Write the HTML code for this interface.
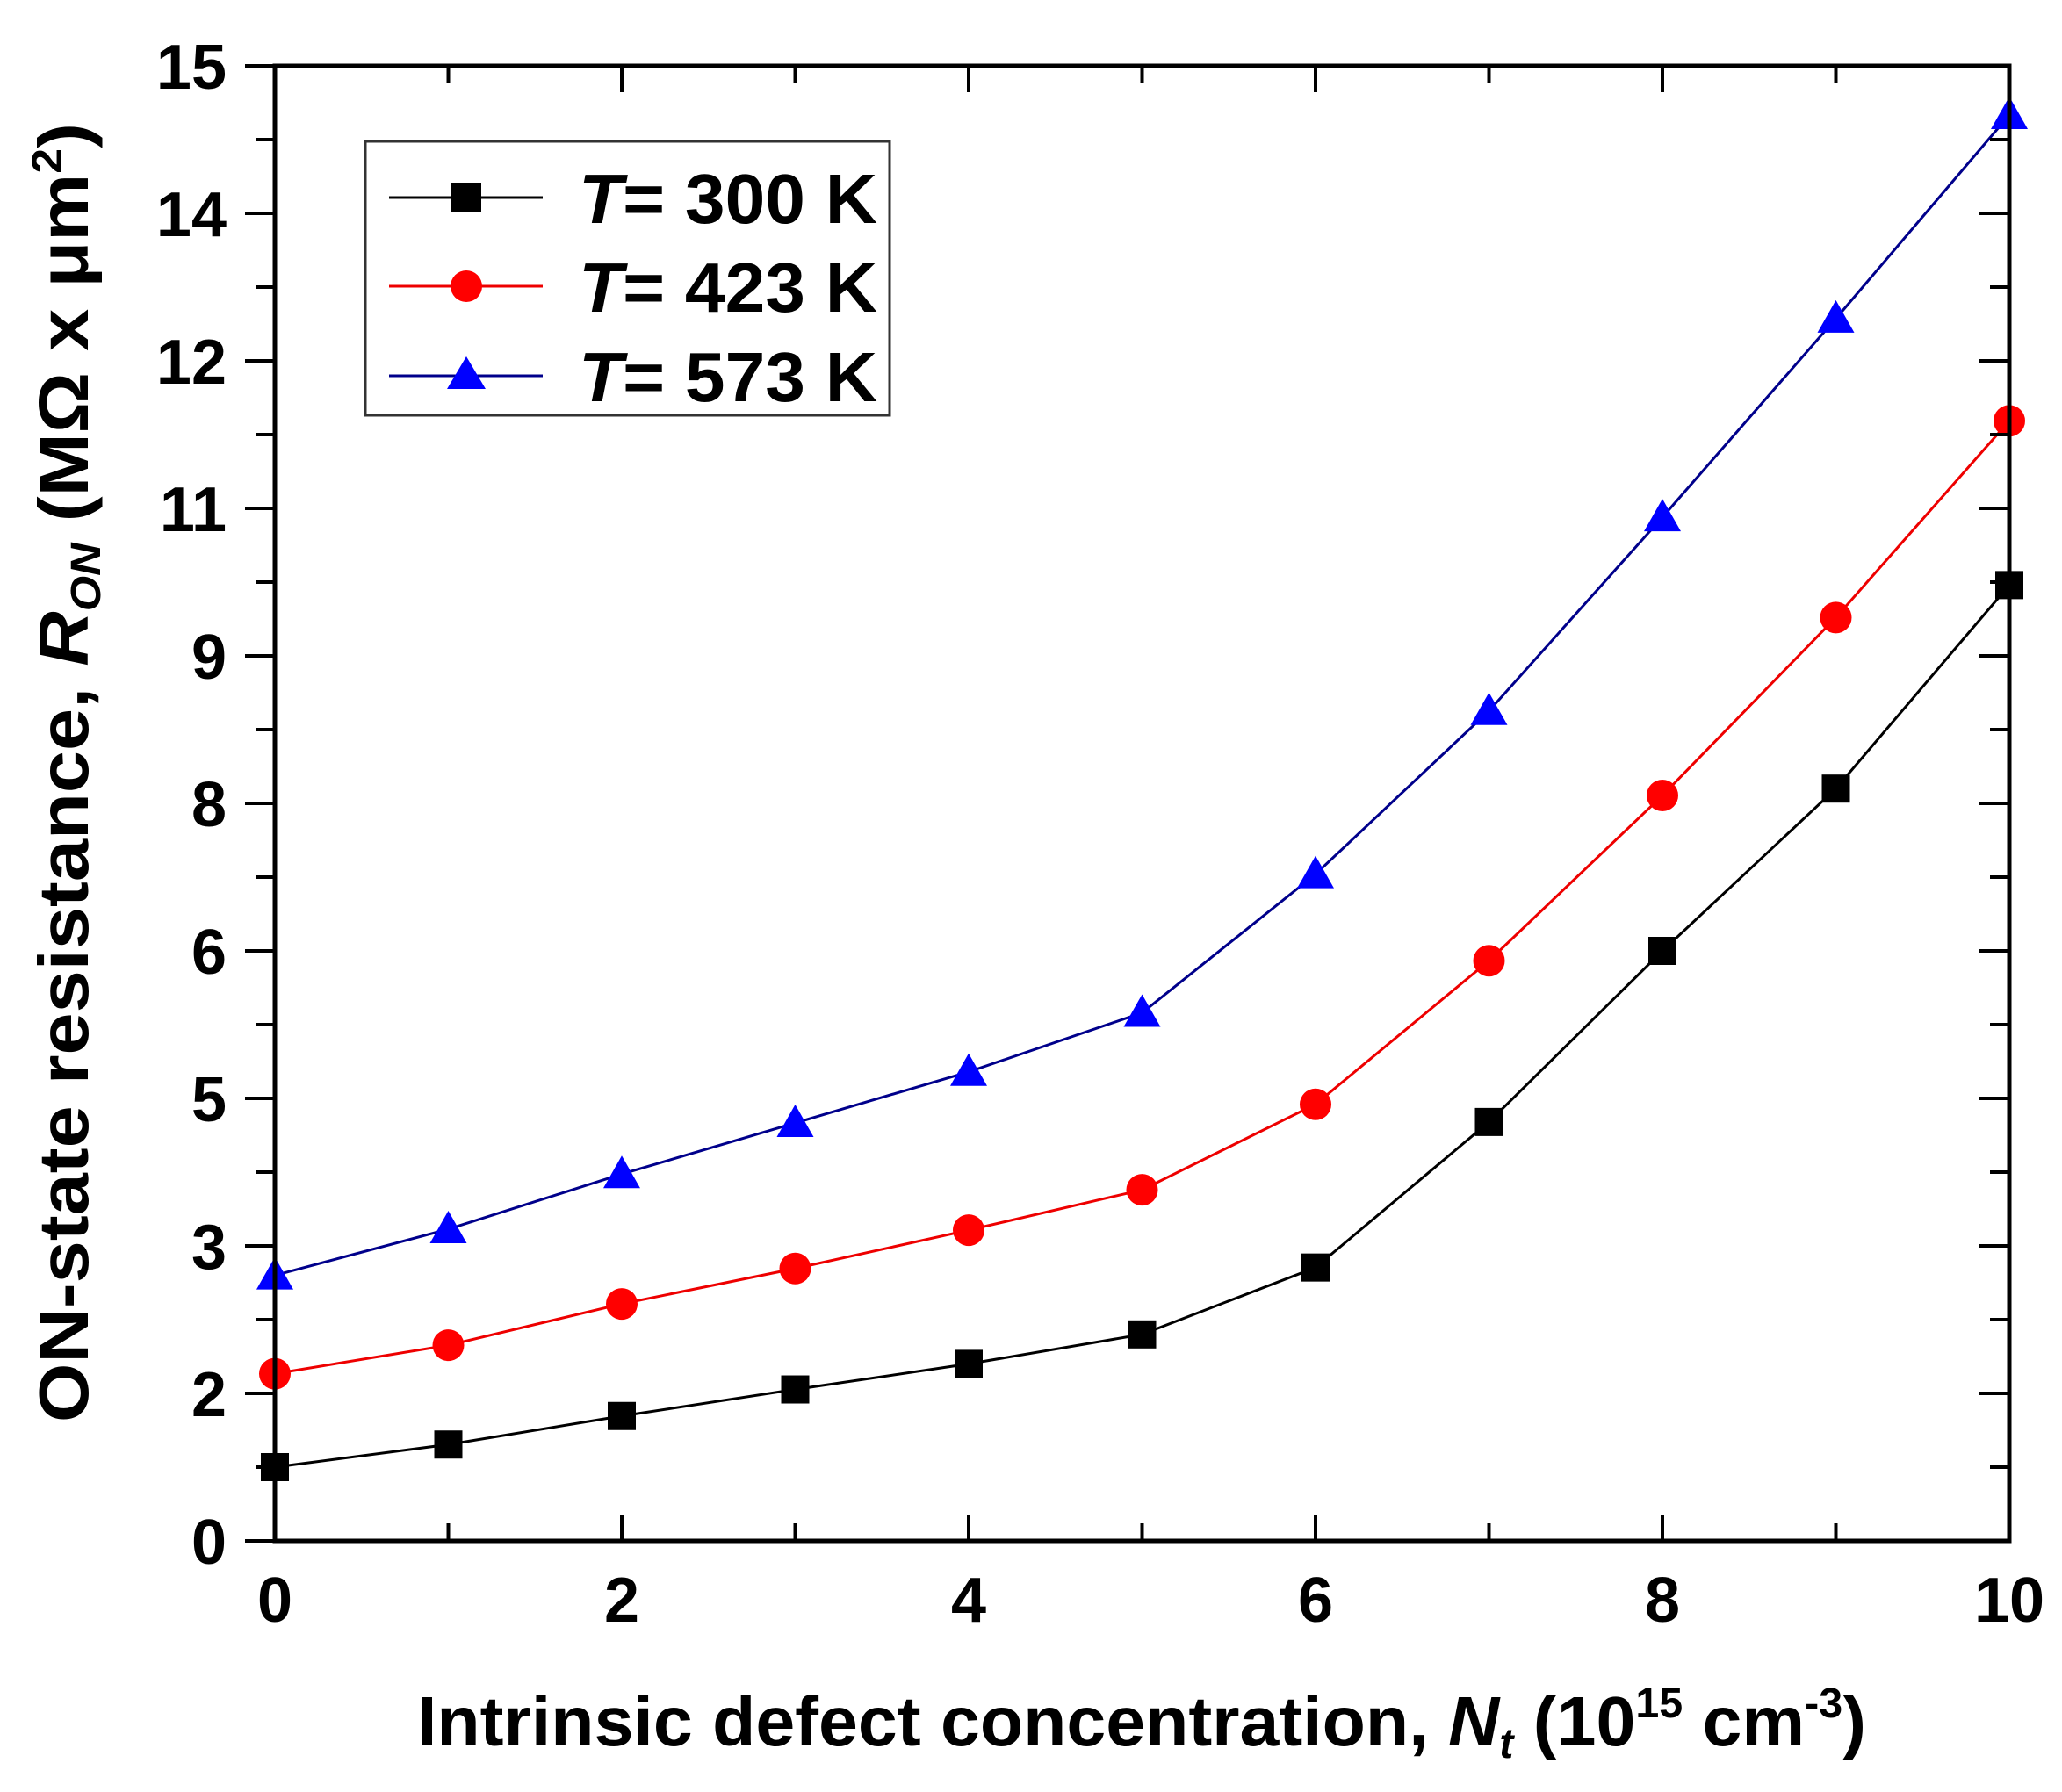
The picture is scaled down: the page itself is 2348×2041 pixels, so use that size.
<!DOCTYPE html>
<html><head><meta charset="utf-8"><style>
html,body{margin:0;padding:0;background:#fff;}
svg{display:block;font-family:"Liberation Sans",Arial,sans-serif;}
</style></head><body>
<svg id="chart" width="2348" height="2041" viewBox="0 0 2348 2041" xmlns="http://www.w3.org/2000/svg">
<rect width="2348" height="2041" fill="#fff"/>
<g id="marks"></g>
<g id="axes"></g>
<text transform="translate(100,880) rotate(-90)" text-anchor="middle" font-size="80" font-weight="bold" textLength="1480" lengthAdjust="spacingAndGlyphs">ON-state resistance, <tspan font-style="italic">R</tspan><tspan font-style="italic" font-size="48" dy="14">ON</tspan><tspan dy="-14"> (MΩ x μm</tspan><tspan font-size="48" dy="-30">2</tspan><tspan dy="30">)</tspan></text>
<text x="1300" y="1988" text-anchor="middle" font-size="80" font-weight="bold" textLength="1650" lengthAdjust="spacingAndGlyphs">Intrinsic defect concentration, <tspan font-style="italic">N</tspan><tspan font-style="italic" font-size="48" dy="14">t</tspan><tspan dy="-14"> (10</tspan><tspan font-size="48" dy="-32">15</tspan><tspan dy="32"> cm</tspan><tspan font-size="48" dy="-32">-3</tspan><tspan dy="32">)</tspan></text>
<g>
<rect x="416" y="161" width="597" height="312" fill="#fff" stroke="#333" stroke-width="3"/>
<g>
<line x1="443" y1="225" x2="618" y2="225" stroke="#000" stroke-width="3"/>
<rect x="514" y="208" width="34" height="34" fill="#000"/>
<text x="659" y="254" font-size="80" font-weight="bold" textLength="340" lengthAdjust="spacingAndGlyphs"><tspan font-style="italic">T</tspan>= 300 K</text>
</g>
<g>
<line x1="443" y1="326" x2="618" y2="326" stroke="#e00" stroke-width="3"/>
<circle cx="531" cy="326" r="18" fill="#f00"/>
<text x="659" y="355" font-size="80" font-weight="bold" textLength="340" lengthAdjust="spacingAndGlyphs"><tspan font-style="italic">T</tspan>= 423 K</text>
</g>
<g>
<line x1="443" y1="428" x2="618" y2="428" stroke="#00008b" stroke-width="3"/>
<polygon points="531,406 553,443 509,443" fill="#00f"/>
<text x="659" y="457" font-size="80" font-weight="bold" textLength="340" lengthAdjust="spacingAndGlyphs"><tspan font-style="italic">T</tspan>= 573 K</text>
</g>
</g>
</svg>
<script>
const xValues = [0,1,2,3,4,5,6,7,8,9,10];
const series300 = [0.75,0.98,1.27,1.54,1.80,2.10,2.78,4.26,6.00,7.65,9.72];
const series423 = [1.70,1.99,2.41,2.77,3.16,3.57,4.44,5.90,7.58,9.39,11.39];
const series573 = [2.70,3.17,3.73,4.25,4.77,5.37,6.78,8.44,10.41,12.43,14.50];
const xTickLabels = ["0","2","4","6","8","10"];
const yTickLabels = ["0","2","3","5","6","8","9","11","12","14","15"];

const NS="http://www.w3.org/2000/svg";
const X0=313,X1=2288,Y0=1755,Y1=75,XMAX=10,YMAX=15;
function sx(v){return X0+(X1-X0)*v/XMAX;}
function sy(v){return Y0-(Y0-Y1)*v/YMAX;}
function mk(tag,attrs,parent){const e=document.createElementNS(NS,tag);for(const k in attrs)e.setAttribute(k,attrs[k]);parent.appendChild(e);return e;}
const marks=document.getElementById('marks');
const axes=document.getElementById('axes');

function drawSeries(vals,color,lineColor,shape,name){
  const g=mk('g',{},marks);
  
  
  const pts=vals.map((v,i)=>sx(xValues[i])+','+sy(v)).join(' ');
  const pl=mk('polyline',{points:pts,fill:'none',stroke:lineColor,'stroke-width':3},g);
  
  
  vals.forEach((v,i)=>{
    const cx=sx(xValues[i]),cy=sy(v);let m;
    if(shape==='square')m=mk('rect',{x:cx-16,y:cy-16,width:32,height:32,fill:color},g);
    else if(shape==='circle')m=mk('circle',{cx:cx,cy:cy,r:18,fill:color},g);
    else m=mk('polygon',{points:`${cx},${cy-21} ${cx+21},${cy+16} ${cx-21},${cy+16}`,fill:color},g);
    
    
  });
}
drawSeries(series300,'#000','#000','square','series-300k');
drawSeries(series423,'#f00','#e00','circle','series-423k');
drawSeries(series573,'#00f','#00008b','triangle','series-573k');

// frame
const fr=mk('rect',{x:X0,y:Y1,width:X1-X0,height:Y0-Y1,fill:'none',stroke:'#000','stroke-width':5},axes);


// x ticks
for(let v=0;v<=10;v++){
  const x=sx(v),len=(v%2===0)?30:20;
  mk('line',{x1:x,y1:Y0,x2:x,y2:Y0-len,stroke:'#000','stroke-width':4},axes);
  mk('line',{x1:x,y1:Y1,x2:x,y2:Y1+len,stroke:'#000','stroke-width':4},axes);
}
xTickLabels.forEach((t,i)=>{
  const tx=mk('text',{x:sx(i*2),y:1847,'text-anchor':'middle','font-size':72,'font-weight':'bold'},axes);
  tx.textContent=t;
  
  
});
// y ticks (every 1.5, minor at 0.75)
for(let k=0;k<=20;k++){
  const v=k*0.75,y=sy(v),len=(k%2===0)?34:22;
  mk('line',{x1:X0,y1:y,x2:X0-len,y2:y,stroke:'#000','stroke-width':4},axes);
  mk('line',{x1:X1,y1:y,x2:X1-len,y2:y,stroke:'#000','stroke-width':4},axes);
}
yTickLabels.forEach((t,i)=>{
  const tx=mk('text',{x:258,y:sy(i*1.5)+26,'text-anchor':'end','font-size':72,'font-weight':'bold'},axes);
  tx.textContent=t;
  
  
});
</script>
</body></html>
